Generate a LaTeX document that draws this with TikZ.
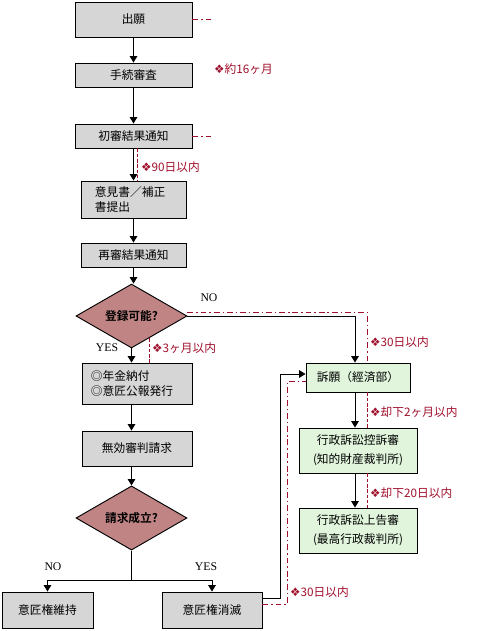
\documentclass[tikz,border=0pt]{standalone}
\usepackage{fontspec}
\setmainfont{Noto Sans CJK JP}[BoldFont={Noto Sans CJK JP Bold}]
\newfontfamily\latinfont{Liberation Serif}
\newfontfamily\symfont{DejaVu Sans}
\usetikzlibrary{shapes.geometric, arrows.meta, calc}

\definecolor{boxgray}{HTML}{D6D6D6}
\definecolor{boxgreen}{HTML}{E0F5DC}
\definecolor{diared}{HTML}{C08484}
\definecolor{notered}{HTML}{A0102C}

\newcommand{\notemark}{{\symfont\char"2756}}

\begin{document}
\begin{tikzpicture}[
    x=0.03cm, y=-0.03cm,
    font=\fontsize{10pt}{13pt}\selectfont,
    proc/.style={
        rectangle,
        draw,
        fill=boxgray,
        line width=0.8pt,
        inner sep=0pt,
        align=center
    },
    appeal/.style={proc, fill=boxgreen, font=\fontsize{10pt}{16pt}\selectfont},
    decide/.style={
        diamond,
        draw,
        fill=diared,
        line width=0.8pt,
        inner sep=0pt,
        font=\bfseries
    },
    link/.style={line width=0.8pt},
    arr/.style={line width=0.8pt, -{Triangle[width=6.5pt,length=5.5pt]}},
    period/.style={notered, line width=0.7pt, dash pattern=on 5pt off 2.5pt on 1.2pt off 2.5pt},
    gap/.style={notered, line width=0.7pt, dash pattern=on 3pt off 1.5pt},
    note/.style={notered, anchor=west, inner sep=0pt},
    yesno/.style={inner sep=0pt, font=\latinfont\fontsize{10pt}{12pt}\selectfont}
]
\useasboundingbox (0,0) rectangle (487,631);

% main column
\node[proc, minimum width=3.51cm, minimum height=1.05cm] (a1) at (133.5,19.5) {出願};
\node[proc, minimum width=3.51cm, minimum height=0.72cm] (a2) at (133.5,75) {手続審査};
\node[proc, minimum width=3.51cm, minimum height=0.72cm] (a3) at (133.5,136) {初審結果通知};
\node[proc, minimum width=3.15cm, minimum height=1.11cm, inner xsep=0.42cm,
      text width=2.31cm, align=left] (a4) at (133.5,199.5) {意見書／補正\\書提出};
\node[proc, minimum width=3.15cm, minimum height=0.72cm] (a5) at (133.5,255) {再審結果通知};
\node[decide, minimum width=3.33cm, minimum height=1.26cm] (d1) at (131.5,316) {登録可能?};
\node[proc, minimum width=3.3cm, minimum height=1.23cm, inner xsep=0.27cm,
      text width=2.76cm, align=left] (nk) at (137,383.5) {◎年金納付\\◎意匠公報発行};
\node[proc, minimum width=3.3cm, minimum height=1.05cm] (mk) at (137,448.5) {無効審判請求};
\node[decide, minimum width=3.33cm, minimum height=1.5cm] (d2) at (131.5,518) {請求成立?};
\node[proc, minimum width=2.73cm, minimum height=1.08cm] (ij) at (47.5,610) {意匠権維持};
\node[proc, minimum width=3cm, minimum height=1.08cm] (sm) at (212,610) {意匠権消滅};

% appeal column
\node[appeal, minimum width=3.12cm, minimum height=0.87cm] (sg) at (358,377.5) {訴願（經済部）};
\node[appeal, minimum width=3.54cm, minimum height=1.35cm] (kz) at (358,450.5) {行政訴訟控訴審\\(知的財産裁判所)};
\node[appeal, minimum width=3.54cm, minimum height=1.35cm] (jk) at (358,530.5) {行政訴訟上告審\\(最高行政裁判所)};

% flow
\draw[arr] (a1) -- (a2);
\draw[arr] (a2) -- (a3);
\draw[arr] (a3) -- (a4);
\draw[arr] (a4) -- (a5);
\draw[arr] (a5) -- (a5 |- d1.north);
\draw[arr] (d1.south) -- (d1.south |- nk.north);
\draw[arr] (d1.south |- nk.south) -- (d1.south |- mk.north);
\draw[arr] (d1.south |- mk.south) -- (d2.north);
\coordinate (fork) at ($(d2.south)+(0,30)$);
\draw[link] (d2.south) -- (fork);
\draw[arr] (fork) -| (ij.north);
\draw[arr] (fork) -| (sm.north);
\draw[arr] (d1.east) -| ([xshift=-0.09cm]sg.north);
\draw[arr] ([xshift=-0.09cm]sg.south) -- ([xshift=-0.09cm]kz.north);
\draw[arr] ([xshift=-0.09cm]kz.south) -- ([xshift=-0.09cm]jk.north);
\draw[arr] ([yshift=0.36cm]sm.east) -- ++(18,0) |- ([yshift=0.105cm]sg.west);

\node[yesno] (no1) at (209,298) {NO};
\node[yesno] (yes1) at (107,348) {YES};
\node[yesno] (no2) at (53,567) {NO};
\node[yesno] (yes2) at (206,567) {YES};

% time limits
\draw[period] (a1.east) -- ++(19,0);
\draw[period] (a3.east) -- ++(19,0);
\node[note] (t1) at (214,69) {\notemark{}約16ヶ月};
\draw[gap] ([xshift=0.105cm]a3.south) -- ([xshift=0.105cm]a4.north);
\node[note] (t2) at (141,167) {\notemark{}90日以内};
\draw[period] ([yshift=0.12cm]d1.east) -| ([xshift=0.27cm]sg.north);
\node[note] (t3) at (370,342) {\notemark{}30日以内};
\coordinate (edge) at ($(d1.south)!0.315!(d1.east)$);
\draw[gap] (edge) -- (edge |- nk.north);
\node[note] (t4) at (152,348) {\notemark{}3ヶ月以内};
\draw[gap] ([xshift=0.27cm]sg.south) -- ([xshift=0.27cm]kz.north);
\node[note] (t5) at (370,412) {\notemark{}却下2ヶ月以内};
\draw[gap] ([xshift=0.27cm]kz.south) -- ([xshift=0.27cm]jk.north);
\node[note] (t6) at (370,493) {\notemark{}却下20日以内};
\draw[period] ([yshift=0.18cm]sm.east) -- ++(25,0) |- ([yshift=-0.105cm]sg.west);
\node[note] (t7) at (290,592) {\notemark{}30日以内};

\end{tikzpicture}
\end{document}
